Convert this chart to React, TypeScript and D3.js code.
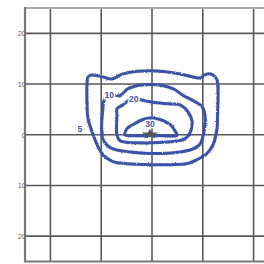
import React from "react";
import * as d3 from "d3";

const W = 264;
const H = 264;

const xTicks = [-20, -10, 0, 10, 20];
const yTicks = [20, 10, 0, -10, -20];
const tickLabels = ["20", "10", "0", "10", "20"];

const contour5: [number, number][] = [
  [-12.6, 11.4], [-11.8, 11.8], [-9.7, 11.4], [-7.9, 11.0], [-5.7, 12.0], [-0.4, 12.6],
  [5.5, 12.0], [8.1, 11.4], [9.5, 11.2], [10.8, 12.0], [12.0, 11.8], [12.8, 10.8],
  [13.0, 7.9], [12.9, 4.0], [12.8, 1.2], [12.0, -2.0], [10.8, -3.7], [8.9, -4.9], [6.9, -5.7],
  [3.6, -5.9], [-0.4, -5.9], [-4.9, -5.7], [-7.7, -5.3], [-9.7, -3.9], [-10.8, -2.0],
  [-11.8, 0.6], [-12.6, 3.2], [-12.8, 6.5], [-12.8, 9.9],
];
const contour10: [number, number][] = [
  [-8.7, 8.1], [-6.3, 7.7], [-4.7, 9.1], [-0.4, 9.9], [4.1, 9.1], [5.9, 7.9], [8.5, 6.5],
  [9.9, 5.5], [10.5, 3.2], [10.1, 0.0], [9.5, -1.8], [8.1, -2.8], [5.5, -3.4], [-0.4, -3.7],
  [-4.3, -3.4], [-7.7, -2.8], [-8.9, -2.0], [-9.7, -0.8], [-9.9, 2.0], [-9.7, 4.9], [-9.5, 6.5],
];
const contour20: [number, number][] = [
  [-6.9, 5.1], [-6.9, 3.9], [-6.9, 0.0], [-6.3, -1.2], [-3.0, -1.6], [-0.4, -1.6],
  [3.6, -1.4], [6.5, -0.8], [7.5, 0.4], [7.9, 2.6], [7.1, 4.5], [5.5, 5.9], [3.0, 6.1],
  [-0.4, 6.5], [-2.4, 6.9], [-3.9, 7.1], [-5.7, 5.9],
];
const contour30: [number, number][] = [
  [-5.3, 0.0], [-4.9, 1.2], [-3.4, 2.2], [-1.8, 3.0], [-0.4, 3.3], [1.6, 3.0], [3.6, 2.0],
  [4.5, 0.8], [4.9, -0.1], [2.0, -0.2], [-0.4, -0.2], [-3.0, -0.2],
];
const contours = [contour5, contour10, contour20, contour30];

const contourLabels = ["5", "10", "20", "30"];
const labelPos: [number, number][] = [[-14.2, 1.2], [-8.4, 7.9], [-3.6, 7.0], [-0.4, 2.2]];
const peak: [number, number] = [-0.4, 0.1];

const x = d3.scaleLinear().domain([-25, 25]).range([25, 279]);
const y = d3.scaleLinear().domain([-25, 25]).range([261.5, 8]);

const BLUE = "#3a53a6";

export default function App() {
  const line = d3
    .line<[number, number]>()
    .x((d) => x(d[0]))
    .y((d) => y(d[1]))
    .curve(d3.curveCatmullRomClosed.alpha(0.5));
  const star = d3.symbol().type(d3.symbolStar).size(55)();
  return (
    <svg
      width={W}
      height={H}
      style={{ position: "absolute", left: 0, top: 0, background: "#fff" }}
      fontFamily="Liberation Sans, Arial, sans-serif"
    >
      <defs>
        <filter id="fuzz" x="-10%" y="-10%" width="120%" height="120%">
          <feTurbulence type="fractalNoise" baseFrequency="0.9" numOctaves="2" seed="3" result="n" />
          <feDisplacementMap in="SourceGraphic" in2="n" scale="2" xChannelSelector="R" yChannelSelector="G" />
        </filter>
        <filter id="hair" x="-10%" y="-10%" width="120%" height="120%">
          <feTurbulence type="fractalNoise" baseFrequency="1.4" numOctaves="1" seed="7" result="n" />
          <feDisplacementMap in="SourceGraphic" in2="n" scale="3.5" xChannelSelector="R" yChannelSelector="G" />
        </filter>
      </defs>
      {/* grid */}
      {xTicks.map((t) => (
        <line key={"gx" + t} x1={x(t)} x2={x(t)} y1={y(25)} y2={y(-25)} stroke="#5a5a5a" strokeWidth={1.6} />
      ))}
      {yTicks.map((t) => (
        <line key={"gy" + t} x1={x(-25)} x2={W} y1={y(t)} y2={y(t)} stroke="#5a5a5a" strokeWidth={1.6} />
      ))}
      {/* frame */}
      <line x1={x(-25)} x2={W} y1={y(25)} y2={y(25)} stroke="#a8a8a8" strokeWidth={2} />
      <line x1={x(-25)} x2={W} y1={y(-25)} y2={y(-25)} stroke="#7a7a7a" strokeWidth={2.2} />
      <line x1={x(-25)} x2={x(-25)} y1={y(25) - 1} y2={y(-25) + 1} stroke="#7a7a7a" strokeWidth={2.2} />
      {/* tick labels */}
      {yTicks.map((t, i) => (
        <text key={"ty" + t} x={x(-25) + 1} y={y(t) + 2.8} fontSize={7.5} fill="#666" textAnchor="end">
          {tickLabels[i]}
        </text>
      ))}
      {xTicks.map((t, i) => (
        <text key={"tx" + t} x={x(t)} y={y(-25) + 8} fontSize={7.5} fill="#666" textAnchor="middle">
          {tickLabels[4 - i]}
        </text>
      ))}
      {/* contours */}
      <g filter="url(#hair)" opacity={0.55}>
        {contours.map((c, i) => (
          <path key={"h" + i} d={line(c) || ""} fill="none" stroke={BLUE} strokeWidth={3.6} strokeDasharray="0.7 1.6" />
        ))}
      </g>
      <g filter="url(#fuzz)">
        {contours.map((c, i) => (
          <path key={"c" + i} d={line(c) || ""} fill="none" stroke={BLUE} strokeWidth={3} strokeLinejoin="round" />
        ))}
      </g>
      <path d={star || ""} transform={`translate(${x(peak[0])},${y(peak[1])}) scale(1.3,0.75)`} fill="#555" />
      {contourLabels.map((l, i) => (
        <text
          key={"l" + l}
          x={x(labelPos[i][0])}
          y={y(labelPos[i][1]) + 3}
          fontSize={8.5}
          fontWeight="bold"
          fill={BLUE}
          textAnchor="middle"
          stroke={i === 0 ? "none" : "#fff"}
          strokeWidth={3}
          paintOrder="stroke"
        >
          {l}
        </text>
      ))}
    </svg>
  );
}
